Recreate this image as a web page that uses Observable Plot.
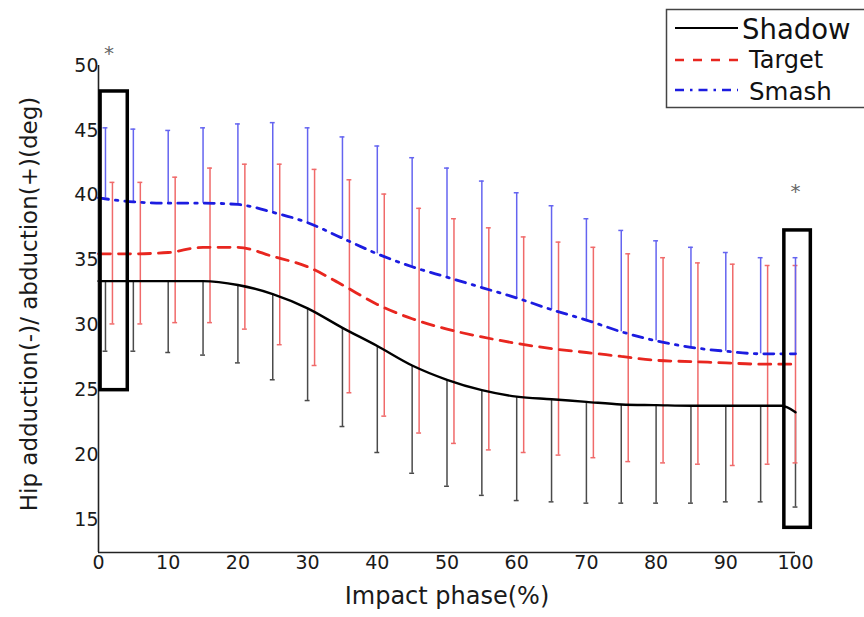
<!DOCTYPE html>
<html>
<head>
<meta charset="utf-8">
<script src="https://cdn.jsdelivr.net/npm/d3@7"></script>
<script src="https://cdn.jsdelivr.net/npm/@observablehq/plot@0.6"></script>
<style>
  html, body { margin: 0; padding: 0; background: #fff; overflow: hidden; }
  #wrap { position: relative; width: 864px; height: 617px; overflow: hidden; }
  #legend { position: absolute; left: 0; top: 0; }
</style>
</head>
<body>
<div id="wrap"></div>
<script>
// ---- data ----
const phase = [0,5,10,15,20,25,30,35,40,45,50,55,60,65,70,75,80,85,90,95,100];
const shadowPhase = [0,5,10,15,20,25,30,35,40,45,50,55,60,65,70,75,80,85,90,95,98,100];
const shadowMean = [33.4,33.4,33.4,33.4,33.1,32.4,31.3,29.8,28.4,26.9,25.8,25.0,24.5,24.3,24.1,23.9,23.85,23.8,23.8,23.8,23.8,23.3];
const targetMean = [35.5,35.5,35.6,36.0,36.0,35.3,34.5,33.1,31.6,30.5,29.7,29.1,28.6,28.2,27.9,27.6,27.3,27.2,27.1,27.0,27.0];
const smashMean  = [39.8,39.5,39.4,39.4,39.3,38.7,37.9,36.7,35.5,34.5,33.7,32.9,32.1,31.2,30.4,29.5,28.8,28.3,28.0,27.8,27.8];

const barPhase       = [1,5,10,15,20,25,30,35,40,45,50,55,60,65,70,75,80,85,90,95,100];
const targetBarPhase = [2,6,11,16,21,26,31,36,41,46,51,56,61,66,71,76,81,86,91,96,100];
const shadowBase = [33.4,33.4,33.4,33.4,33.1,32.4,31.3,29.8,28.4,26.9,25.8,25.0,24.5,24.3,24.1,23.9,23.85,23.8,23.8,23.8,23.3];
const shadowLow  = [28.0,28.0,27.9,27.7,27.1,25.8,24.2,22.2,20.2,18.6,17.6,16.9,16.5,16.4,16.3,16.3,16.3,16.3,16.4,16.4,16.0];
const targetHigh = [41.0,41.0,41.4,42.1,42.4,42.4,42.0,41.2,40.1,39.0,38.2,37.5,36.8,36.4,36.0,35.5,35.2,34.8,34.7,34.6,34.6];
const targetLow  = [30.1,30.1,30.2,30.2,29.7,28.5,26.9,24.8,23.0,21.7,20.9,20.4,20.2,20.0,19.8,19.5,19.4,19.3,19.2,19.3,19.4];
const smashHigh  = [45.2,45.1,45.0,45.2,45.5,45.6,45.2,44.5,43.8,42.9,42.1,41.1,40.2,39.2,38.2,37.3,36.5,36.0,35.6,35.2,35.2];

const xTicks = [0,10,20,30,40,50,60,70,80,90,100];
const yTicks = [15,20,25,30,35,40,45,50];
const highlights = [{x1: 0.3, x2: 4.2, y1: 25.0, y2: 48.0}, {x1: 98.4, x2: 102.2, y1: 14.4, y2: 37.3}];
const stars = [{x: 1.5, y: 50.9}, {x: 100, y: 40.3}];
const seriesNames = ["Shadow", "Target", "Smash"];

// ---- tables ----
const shadowLine = shadowPhase.map((x, i) => ({x, y: shadowMean[i]}));
const targetLine = phase.map((x, i) => ({x, y: targetMean[i]}));
const smashLine  = phase.map((x, i) => ({x, y: smashMean[i]}));
const shadowBars = barPhase.map((x, i) => ({x, y1: shadowBase[i], y2: shadowLow[i]}));
const targetBars = targetBarPhase.map((x, i) => ({x, y1: targetLow[i], y2: targetHigh[i]}));
const smashBars  = barPhase.map((x, i) => ({x, y1: smashMean[i], y2: smashHigh[i]}));
const cap = 0.35;

const font = "DejaVu Sans, Liberation Sans, Arial, sans-serif";
const cShadow = "#000000", cShadowBar = "#4a4a4a";
const cTarget = "#e8261f", cTargetBar = "#f06a6a";
const cSmash = "#1c1ce0", cSmashBar = "#6464f0";

const chart = Plot.plot({
  width: 864,
  height: 617,
  marginLeft: 98,
  marginRight: 69,
  marginTop: 65,
  marginBottom: 65,
  style: {fontFamily: font, fontSize: "19px", color: "#1a1a1a", background: "#fff", overflow: "visible"},
  x: {domain: [0, 100], ticks: xTicks, tickSize: 0, tickPadding: 3, label: null},
  y: {domain: [12.5, 50], ticks: yTicks, tickSize: 0, tickPadding: 0, label: null},
  marks: [
    // error bars
    Plot.ruleX(shadowBars, {x: "x", y1: "y1", y2: "y2", stroke: cShadowBar, strokeWidth: 1.5}),
    Plot.ruleY(shadowBars, {y: "y2", x1: d => d.x - cap, x2: d => d.x + cap, stroke: cShadowBar, strokeWidth: 1.5}),
    Plot.ruleX(targetBars, {x: "x", y1: "y1", y2: "y2", stroke: cTargetBar, strokeWidth: 1.5}),
    Plot.ruleY(targetBars, {y: "y1", x1: d => d.x - cap, x2: d => d.x + cap, stroke: cTargetBar, strokeWidth: 1.5}),
    Plot.ruleY(targetBars, {y: "y2", x1: d => d.x - cap, x2: d => d.x + cap, stroke: cTargetBar, strokeWidth: 1.5}),
    Plot.ruleX(smashBars, {x: "x", y1: "y1", y2: "y2", stroke: cSmashBar, strokeWidth: 1.5}),
    Plot.ruleY(smashBars, {y: "y2", x1: d => d.x - cap, x2: d => d.x + cap, stroke: cSmashBar, strokeWidth: 1.5}),
    // mean lines
    Plot.line(shadowLine, {x: "x", y: "y", stroke: cShadow, strokeWidth: 2.4, curve: "monotone-x"}),
    Plot.line(targetLine, {x: "x", y: "y", stroke: cTarget, strokeWidth: 2.8, strokeDasharray: "12,8", curve: "monotone-x"}),
    Plot.line(smashLine, {x: "x", y: "y", stroke: cSmash, strokeWidth: 2.8, strokeDasharray: "10,7,2.5,7", curve: "monotone-x"}),
    // axes lines
    Plot.ruleX([0], {stroke: "#222", strokeWidth: 1.6}),
    Plot.ruleY([12.5], {stroke: "#222", strokeWidth: 1.6}),
    // highlight boxes
    Plot.rect(highlights, {x1: "x1", x2: "x2", y1: "y1", y2: "y2", fill: "none", stroke: "#000", strokeWidth: 3.5}),
    // significance stars
    Plot.text(stars, {x: "x", y: "y", text: () => "*", fill: "#666", fontSize: 20}),
    // axis titles
    Plot.text(["Impact phase(%)"], {frameAnchor: "bottom", textAnchor: "middle", dy: 51, text: d => d, fontSize: 24, fill: "#1a1a1a"}),
    Plot.text(["Hip adduction(-)/ abduction(+)(deg)"], {frameAnchor: "left", textAnchor: "middle", dx: -69, dy: -5, rotate: -90, text: d => d, fontSize: 23, fill: "#1a1a1a"})
  ]
});

const wrap = document.getElementById("wrap");
wrap.appendChild(chart);

// ---- legend (overlay) ----
const ns = "http://www.w3.org/2000/svg";
const leg = document.createElementNS(ns, "svg");
leg.setAttribute("id", "legend");
leg.setAttribute("width", 864);
leg.setAttribute("height", 120);
const legItems = [
  {name: seriesNames[0], color: cShadow, dash: null, width: 2, ly: 28, tx: 742, ty: 39, fs: 27.5},
  {name: seriesNames[1], color: cTarget, dash: "9,9", width: 2.5, ly: 60, tx: 749, ty: 68, fs: 24},
  {name: seriesNames[2], color: cSmash, dash: "9,6,2.5,6", width: 2.5, ly: 90, tx: 749, ty: 100, fs: 24.5}
];
const box = document.createElementNS(ns, "rect");
box.setAttribute("x", 666.5); box.setAttribute("y", 9.5);
box.setAttribute("width", 220); box.setAttribute("height", 98);
box.setAttribute("fill", "#fff"); box.setAttribute("stroke", "#444"); box.setAttribute("stroke-width", 1.5);
leg.appendChild(box);
for (const it of legItems) {
  const l = document.createElementNS(ns, "line");
  l.setAttribute("x1", 675); l.setAttribute("x2", 738);
  l.setAttribute("y1", it.ly); l.setAttribute("y2", it.ly);
  l.setAttribute("stroke", it.color); l.setAttribute("stroke-width", it.width);
  if (it.dash) l.setAttribute("stroke-dasharray", it.dash);
  leg.appendChild(l);
  const t = document.createElementNS(ns, "text");
  t.setAttribute("x", it.tx); t.setAttribute("y", it.ty);
  t.setAttribute("font-family", font); t.setAttribute("font-size", it.fs);
  t.setAttribute("fill", "#111");
  t.textContent = it.name;
  leg.appendChild(t);
}
wrap.appendChild(leg);
</script>
</body>
</html>
